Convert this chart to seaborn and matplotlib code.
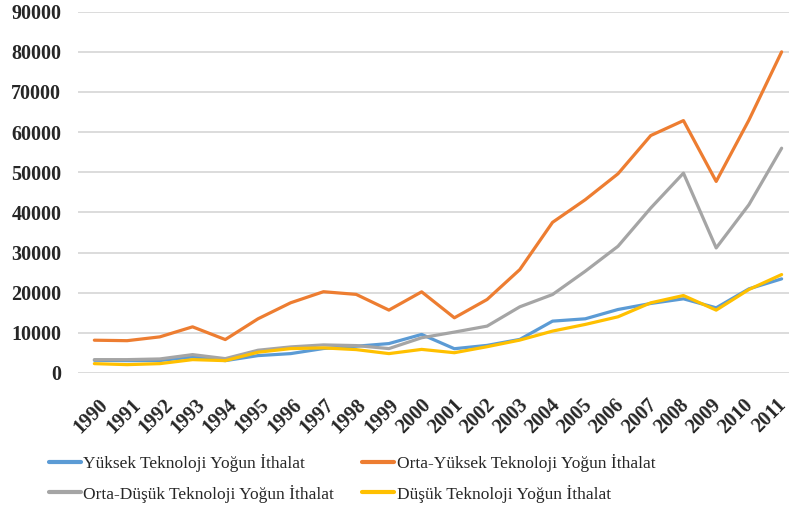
import matplotlib
matplotlib.use("Agg")
import matplotlib.pyplot as plt
import matplotlib.transforms as mtransforms
import seaborn as sns
import pandas as pd

years = list(range(1990, 2012))

yuksek = [3170, 3080, 3100, 4000, 3080, 4330, 4830, 6100, 6670, 7330, 9610,
          6050, 6880, 8370, 12920, 13500, 15820, 17320, 18480, 16240, 20960, 23450]
orta_yuksek = [8170, 8050, 9000, 11500, 8330, 13500, 17500, 20250, 19580, 15670, 20220,
               13750, 18310, 25770, 37530, 43170, 49630, 59150, 62880, 47720, 63000, 80000]
orta_dusuk = [3330, 3330, 3500, 4580, 3580, 5670, 6500, 7000, 6830, 6080, 8780,
              10190, 11680, 16490, 19550, 25350, 31570, 41090, 49790, 31150, 41920, 56000]
dusuk = [2330, 2080, 2330, 3330, 3080, 5170, 6080, 6250, 5830, 4830, 5880,
         5050, 6550, 8200, 10440, 12100, 14000, 17480, 19300, 15660, 20800, 24520]

series = ["Yüksek Teknoloji Yoğun İthalat", "Orta-Yüksek Teknoloji Yoğun İthalat",
          "Orta-Düşük Teknoloji Yoğun İthalat", "Düşük Teknoloji Yoğun İthalat"]
colors = ["#5B9BD5", "#ED7D31", "#A5A5A5", "#FFC000"]

rows = []
for name, vals in zip(series, [yuksek, orta_yuksek, orta_dusuk, dusuk]):
    for i, v in enumerate(vals):
        rows.append({"pos": i, "value": v, "series": name})
df = pd.DataFrame(rows)

sns.set_style("white")
plt.rcParams["font.family"] = ["Liberation Serif", "DejaVu Serif"]

fig = plt.figure(figsize=(7.89, 5.08), dpi=100)
ax = fig.add_axes([78 / 789, 1 - 373 / 508, (798 - 78) / 789, (373 - 11.7) / 508])

sns.lineplot(data=df, x="pos", y="value", hue="series", hue_order=series,
             palette=colors, linewidth=2.3, ax=ax, legend=True)

ax.set_xlim(-0.5, 21.5)
ax.set_ylim(0, 90000)
ax.set_yticks(range(0, 90001, 10000))
ax.set_yticklabels([str(v) for v in range(0, 90001, 10000)], fontsize=14.5, fontweight="bold")
ax.set_xticks(range(len(years)))
ax.set_xticklabels([str(y) for y in years], rotation=45, ha="right", rotation_mode="anchor",
                   fontsize=14.5, fontweight="bold")
ax.tick_params(axis="y", length=0, pad=12)
ax.tick_params(axis="x", length=0, pad=16)
# labels drift slightly left of their ticks toward the right end, as in the original
n = len(years)
for i, lbl in enumerate(ax.get_xticklabels()):
    dx = (4 - 10 * i / (n - 1)) / 100
    lbl.set_transform(lbl.get_transform() + mtransforms.ScaledTranslation(dx, 0, fig.dpi_scale_trans))
ax.grid(axis="y", color="#D9D9D9", linewidth=1.3)
ax.set_axisbelow(True)
for s in ax.spines.values():
    s.set_visible(False)
ax.set_xlabel("")
ax.set_ylabel("")

handles, labels = ax.get_legend_handles_labels()
ax.get_legend().remove()
order = [0, 2, 1, 3]
leg = fig.legend([handles[i] for i in order], [labels[i] for i in order],
                 loc="lower left", bbox_to_anchor=(33 / 789, -0.02), ncol=2, frameon=False,
                 fontsize=12.5, handlelength=1.85, handletextpad=0.15, columnspacing=1.6,
                 labelspacing=0.72)
for line in leg.get_lines():
    line.set_linewidth(3)

fig.savefig("out.png", dpi=100)
